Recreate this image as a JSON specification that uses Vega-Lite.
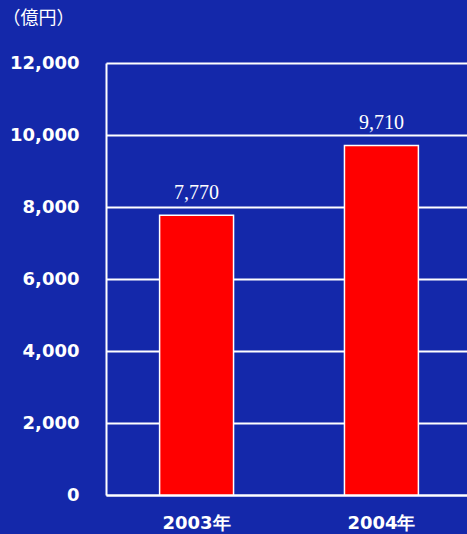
{
  "$schema": "https://vega.github.io/schema/vega-lite/v6.json",
  "width": 366,
  "height": 432,
  "autosize": {"type": "none"},
  "padding": {"left": 106, "top": 63, "right": 0, "bottom": 39},
  "background": "#1428aa",
  "data": {"values": [
    {"year": "2003年", "value": 7770},
    {"year": "2004年", "value": 9710}
  ]},
  "config": {
    "view": {"stroke": null},
    "axis": {"domainColor": "white", "domainWidth": 2, "ticks": false}
  },
  "encoding": {
    "x": {"field": "year", "type": "nominal", "sort": null,
      "scale": {"paddingInner": 0.6, "paddingOuter": 0.29},
      "axis": {"title": null, "labelAngle": 0, "labelColor": "white", "labelFont": "DejaVu Sans", "labelFontWeight": "bold", "labelFontSize": 18, "labelPadding": 19, "labelBaseline": "top"}},
    "y": {"field": "value", "type": "quantitative",
      "scale": {"domain": [0, 12000]},
      "axis": {"values": [0, 2000, 4000, 6000, 8000, 10000, 12000], "format": ",.0f", "grid": true, "gridColor": "white", "gridWidth": 2, "gridOpacity": 1,
        "labelColor": "white", "labelFont": "DejaVu Sans", "labelFontWeight": "bold", "labelFontSize": 18, "labelPadding": 27,
        "title": "（億円）", "titleAngle": 0, "titleX": -104, "titleY": -45, "titleAlign": "left", "titleBaseline": "middle",
        "titleColor": "white", "titleFont": "Noto Sans CJK JP", "titleFontWeight": "normal", "titleFontSize": 18}}
  },
  "layer": [
    {"mark": {"type": "bar", "color": "#ff0000", "stroke": "white", "strokeWidth": 1.5}},
    {"mark": {"type": "text", "baseline": "alphabetic", "dy": -16, "color": "white", "font": "Liberation Serif", "fontSize": 20},
      "encoding": {"text": {"field": "value", "type": "quantitative", "format": ",.0f"}}}
  ]
}
